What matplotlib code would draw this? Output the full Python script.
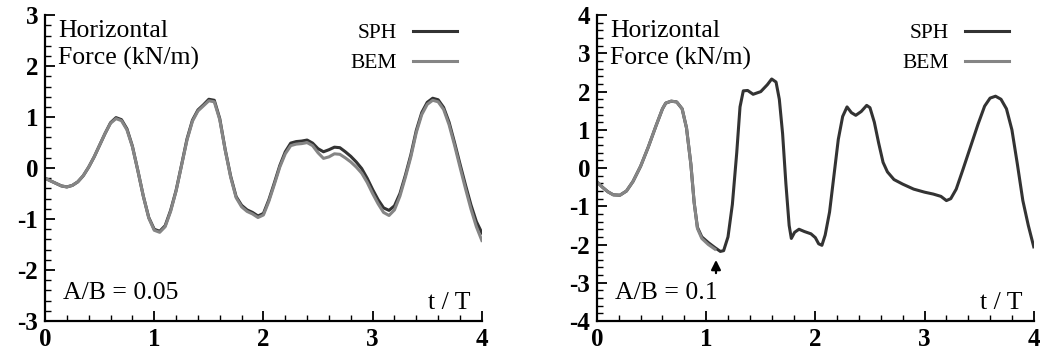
import numpy as np
import matplotlib
matplotlib.use("Agg")
import matplotlib.pyplot as plt
from matplotlib.ticker import MultipleLocator

plt.rcParams["font.family"] = ["Liberation Serif", "DejaVu Serif"]
plt.rcParams["axes.unicode_minus"] = False

# A/B = 0.05
t_a = [0, 0.05, 0.1, 0.15, 0.2, 0.25, 0.3, 0.35, 0.4, 0.45, 0.5, 0.55, 0.6,
       0.65, 0.7, 0.75, 0.8, 0.85, 0.9, 0.95, 1.0, 1.05, 1.1, 1.15, 1.2,
       1.25, 1.3, 1.35, 1.4, 1.45, 1.5, 1.55, 1.6, 1.65, 1.7, 1.75, 1.8,
       1.85, 1.9, 1.95, 2.0, 2.05, 2.1, 2.15, 2.2, 2.25, 2.3, 2.35, 2.4,
       2.45, 2.5, 2.55, 2.6, 2.65, 2.7, 2.75, 2.8, 2.85, 2.9, 2.95, 3.0,
       3.05, 3.1, 3.15, 3.2, 3.25, 3.3, 3.35, 3.4, 3.45, 3.5, 3.55, 3.6,
       3.65, 3.7, 3.75, 3.8, 3.85, 3.9, 3.95, 4.0]
bem_a = [-0.20, -0.25, -0.30, -0.35, -0.37, -0.34, -0.27, -0.15, 0.02, 0.22,
         0.45, 0.68, 0.88, 0.97, 0.93, 0.75, 0.42, -0.05, -0.55, -0.98, -1.22,
         -1.26, -1.15, -0.85, -0.45, 0.05, 0.55, 0.92, 1.12, 1.22, 1.32, 1.30,
         0.95, 0.35, -0.18, -0.58, -0.76, -0.85, -0.90, -0.97, -0.92, -0.65,
         -0.32, 0.02, 0.28, 0.44, 0.47, 0.48, 0.50, 0.44, 0.30, 0.19, 0.22,
         0.28, 0.27, 0.20, 0.12, 0.02, -0.10, -0.28, -0.50, -0.70, -0.87,
         -0.93, -0.82, -0.55, -0.18, 0.22, 0.70, 1.05, 1.25, 1.33, 1.30, 1.15,
         0.85, 0.45, 0.02, -0.40, -0.80, -1.15, -1.42]
sph_a = [-0.20, -0.25, -0.30, -0.35, -0.37, -0.34, -0.27, -0.15, 0.02, 0.22,
         0.45, 0.68, 0.89, 0.99, 0.95, 0.77, 0.43, -0.05, -0.55, -0.97, -1.20,
         -1.24, -1.13, -0.83, -0.44, 0.06, 0.57, 0.94, 1.14, 1.24, 1.35, 1.33,
         0.97, 0.36, -0.16, -0.56, -0.73, -0.82, -0.87, -0.94, -0.89, -0.62,
         -0.29, 0.05, 0.32, 0.49, 0.52, 0.53, 0.55, 0.49, 0.38, 0.32, 0.36,
         0.41, 0.40, 0.32, 0.23, 0.12, -0.01, -0.20, -0.42, -0.62, -0.78,
         -0.83, -0.74, -0.50, -0.14, 0.26, 0.74, 1.09, 1.29, 1.37, 1.34, 1.19,
         0.90, 0.50, 0.08, -0.33, -0.72, -1.05, -1.27]

# A/B = 0.1
t_b = [0, 0.05, 0.1, 0.15, 0.21, 0.27, 0.33, 0.4, 0.47, 0.54, 0.6, 0.63,
       0.68, 0.73, 0.78, 0.82, 0.86, 0.89, 0.92, 0.96, 1.02, 1.08, 1.13,
       1.16, 1.2, 1.24, 1.28, 1.31, 1.34, 1.38, 1.43, 1.5, 1.56, 1.6, 1.64,
       1.67, 1.7, 1.73, 1.76, 1.78, 1.81, 1.85, 1.9, 1.96, 2.0, 2.03, 2.06,
       2.09, 2.13, 2.17, 2.21, 2.25, 2.29, 2.33, 2.37, 2.42, 2.47, 2.5, 2.54,
       2.58, 2.62, 2.66, 2.72, 2.8, 2.9, 3.0, 3.08, 3.15, 3.2, 3.24, 3.29,
       3.35, 3.42, 3.49, 3.55, 3.6, 3.65, 3.7, 3.75, 3.8, 3.85, 3.9, 3.95,
       4.0]
sph_b = [-0.36, -0.50, -0.62, -0.70, -0.71, -0.60, -0.35, 0.05, 0.55, 1.10,
         1.55, 1.70, 1.75, 1.73, 1.55, 1.05, 0.10, -0.90, -1.55, -1.80, -1.95,
         -2.08, -2.18, -2.16, -1.80, -0.95, 0.40, 1.60, 2.02, 2.03, 1.93, 2.0,
         2.18, 2.33, 2.25, 1.80, 0.90, -0.40, -1.50, -1.84, -1.68, -1.60,
         -1.66, -1.72, -1.82, -1.98, -2.02, -1.75, -1.15, -0.20, 0.75, 1.35,
         1.60, 1.45, 1.38, 1.48, 1.64, 1.58, 1.20, 0.65, 0.15, -0.10, -0.30,
         -0.42, -0.55, -0.63, -0.68, -0.74, -0.85, -0.80, -0.55, -0.05, 0.55,
         1.15, 1.62, 1.83, 1.88, 1.80, 1.55, 1.00, 0.10, -0.85, -1.50, -2.06]
t_b_bem = [0, 0.05, 0.1, 0.15, 0.21, 0.27, 0.33, 0.4, 0.47, 0.54, 0.6, 0.63,
           0.68, 0.73, 0.78, 0.82, 0.86, 0.89, 0.92, 0.96, 1.02, 1.08]
bem_b = [-0.36, -0.50, -0.62, -0.70, -0.71, -0.60, -0.35, 0.05, 0.55, 1.10,
         1.55, 1.70, 1.75, 1.73, 1.55, 1.05, 0.10, -0.90, -1.58, -1.84, -2.00,
         -2.12]

SPH_COLOR = "#333333"
BEM_COLOR = "#858585"
LW = 2.2

fig = plt.figure(figsize=(10.4, 3.54), dpi=100)
ax1 = fig.add_axes([0.0433, 0.0932, 0.420, 0.864])
ax2 = fig.add_axes([0.574, 0.0932, 0.420, 0.864])

ax1.plot(t_a, sph_a, color=SPH_COLOR, lw=LW)
ax1.plot(t_a, bem_a, color=BEM_COLOR, lw=LW)
ax2.plot(t_b, sph_b, color=SPH_COLOR, lw=LW)
ax2.plot(t_b_bem, bem_b, color=BEM_COLOR, lw=LW)

for ax, ylim, label in [(ax1, 3, "A/B = 0.05"), (ax2, 4, "A/B = 0.1")]:
    ax.set_xlim(0, 4)
    ax.set_ylim(-ylim, ylim)
    ax.spines["top"].set_visible(False)
    ax.spines["right"].set_visible(False)
    ax.spines["left"].set_linewidth(1.6)
    ax.spines["bottom"].set_linewidth(1.6)
    ax.xaxis.set_major_locator(MultipleLocator(1))
    ax.xaxis.set_minor_locator(MultipleLocator(0.2))
    ax.yaxis.set_major_locator(MultipleLocator(1))
    ax.yaxis.set_minor_locator(MultipleLocator(0.2))
    ax.tick_params(which="major", direction="in", length=7, width=1.3,
                   labelsize=18, pad=5)
    ax.tick_params(which="minor", direction="in", length=4, width=1)
    for lab in ax.get_xticklabels() + ax.get_yticklabels():
        lab.set_fontweight("bold")
    ax.text(0.03, 0.93, "Horizontal", transform=ax.transAxes, fontsize=18.5)
    ax.text(0.03, 0.838, "Force (kN/m)", transform=ax.transAxes, fontsize=18.5)
    ax.text(0.042, 0.072, label, transform=ax.transAxes, fontsize=18.5)
    ax.text(0.975, 0.04, "t / T", transform=ax.transAxes, fontsize=18.5,
            ha="right")
    ax.text(0.805, 0.94, "SPH", transform=ax.transAxes, fontsize=15.5,
            ha="right", va="center")
    ax.text(0.805, 0.843, "BEM", transform=ax.transAxes, fontsize=15.5,
            ha="right", va="center")
    ax.plot([0.842, 0.943], [0.947, 0.947], transform=ax.transAxes,
            color=SPH_COLOR, lw=LW, clip_on=False)
    ax.plot([0.842, 0.943], [0.85, 0.85], transform=ax.transAxes,
            color=BEM_COLOR, lw=LW, clip_on=False)

ax2.annotate("", xy=(1.09, -2.33), xytext=(1.09, -2.82),
             arrowprops=dict(arrowstyle="-|>", color="black", lw=1.6,
                             mutation_scale=14))

fig.savefig("out.png", dpi=100)
